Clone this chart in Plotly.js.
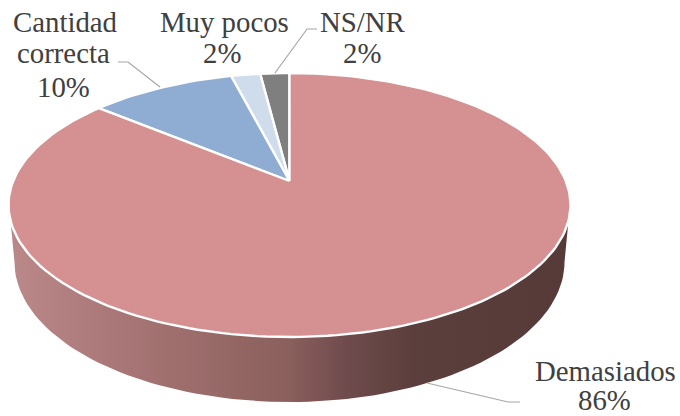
<!DOCTYPE html>
<html><head><meta charset="utf-8">
<script src="https://cdn.plot.ly/plotly-3.0.1.min.js"></script>
<style>html,body{margin:0;padding:0;background:#fff}#c{width:680px;height:416px}</style>
</head><body><div id="c"></div>
<script>
var categories = ['NS/NR', 'Muy pocos', 'Cantidad correcta', 'Demasiados'];
var values = [2, 2, 10, 86];
var sliceColors = ['#7f7f7f', '#cfdcec', '#8fadd3', '#d59191'];
var wallStops = [[0, '#bb8989'], [0.2, '#a87676'], [0.5, '#8a5f5c'], [0.6, '#704b4d'], [0.72, '#5b3f3c'], [1, '#553a38']];
var labelLines = [
  {t: 'Cantidad', x: 65, y: 32}, {t: 'correcta', x: 63, y: 63}, {t: '10%', x: 63, y: 97},
  {t: 'Muy pocos', x: 224, y: 32}, {t: '2%', x: 222, y: 63},
  {t: 'NS/NR', x: 363, y: 32}, {t: '2%', x: 362, y: 63},
  {t: 'Demasiados', x: 605, y: 381}, {t: '86%', x: 604, y: 410}
];
var leaders = [
  {x: [118, 128, 160], y: [62, 62, 87]},
  {x: [317, 307, 275], y: [29, 29, 73]},
  {x: [520, 508, 427], y: [402, 402, 383]}
];
// projection of the pie's circular top into the picture
var P = {cx: 289.5, cy: 181, a: 276.3, b: 127.6, k: 0.1818};
function proj(deg) {
  var r = deg * Math.PI / 180, u = -Math.sin(r), v = Math.cos(r), d = 1 + P.k * v;
  return [P.cx + P.a * u / d, P.cy - P.b * v / d];
}
var total = values.reduce(function (s, v) { return s + v; }, 0);
var traces = [];
// side wall
var wx = [], wy = [], W = {cx: 289.5, cy: 262, rx: 275, ry: 140};
for (var t = 180; t >= 0; t -= 2) {
  wx.push(W.cx + W.rx * Math.cos(t * Math.PI / 180));
  wy.push(W.cy + W.ry * Math.sin(t * Math.PI / 180));
}
wx.push(570); wy.push(205); wx.push(289.5); wy.push(205); wx.push(9); wy.push(205); wx.push(wx[0]); wy.push(wy[0]);
traces.push({type: 'scatter', mode: 'lines', x: wx, y: wy, fill: 'toself', line: {width: 0, color: 'rgba(0,0,0,0)'},
  fillgradient: {type: 'horizontal', colorscale: wallStops}, hoverinfo: 'skip'});
// top slices
var acc = 0;
values.forEach(function (v, i) {
  var start = acc / total * 360, end = (acc + v) / total * 360;
  var xs = [P.cx], ys = [P.cy], n = Math.max(4, Math.ceil((end - start) / 1.5));
  for (var j = 0; j <= n; j++) {
    var p = proj(start + (end - start) * j / n);
    xs.push(p[0]); ys.push(p[1]);
  }
  xs.push(P.cx); ys.push(P.cy);
  traces.push({type: 'scatter', mode: 'lines', name: categories[i], x: xs, y: ys, fill: 'toself', fillcolor: sliceColors[i],
    line: {color: '#ffffff', width: 2.4}, hoverinfo: 'skip'});
  acc += v;
});
leaders.forEach(function (l) {
  traces.push({type: 'scatter', mode: 'lines', x: l.x, y: l.y, line: {color: '#a6a6a6', width: 1.2}, hoverinfo: 'skip'});
});
var annotations = labelLines.map(function (l) {
  return {x: l.x, y: l.y - 10.5, xref: 'x', yref: 'y', text: l.t, showarrow: false, xanchor: 'center', yanchor: 'middle',
    font: {family: '"Liberation Serif", serif', size: 28.8, color: '#404040'}};
});
Plotly.newPlot('c', traces, {
  width: 680, height: 416, margin: {l: 0, r: 0, t: 0, b: 0}, showlegend: false,
  paper_bgcolor: '#ffffff', plot_bgcolor: '#ffffff', hovermode: false,
  xaxis: {range: [0, 680], visible: false, fixedrange: true},
  yaxis: {range: [416, 0], visible: false, fixedrange: true},
  annotations: annotations
}, {displayModeBar: false, staticPlot: true});
</script></body></html>
